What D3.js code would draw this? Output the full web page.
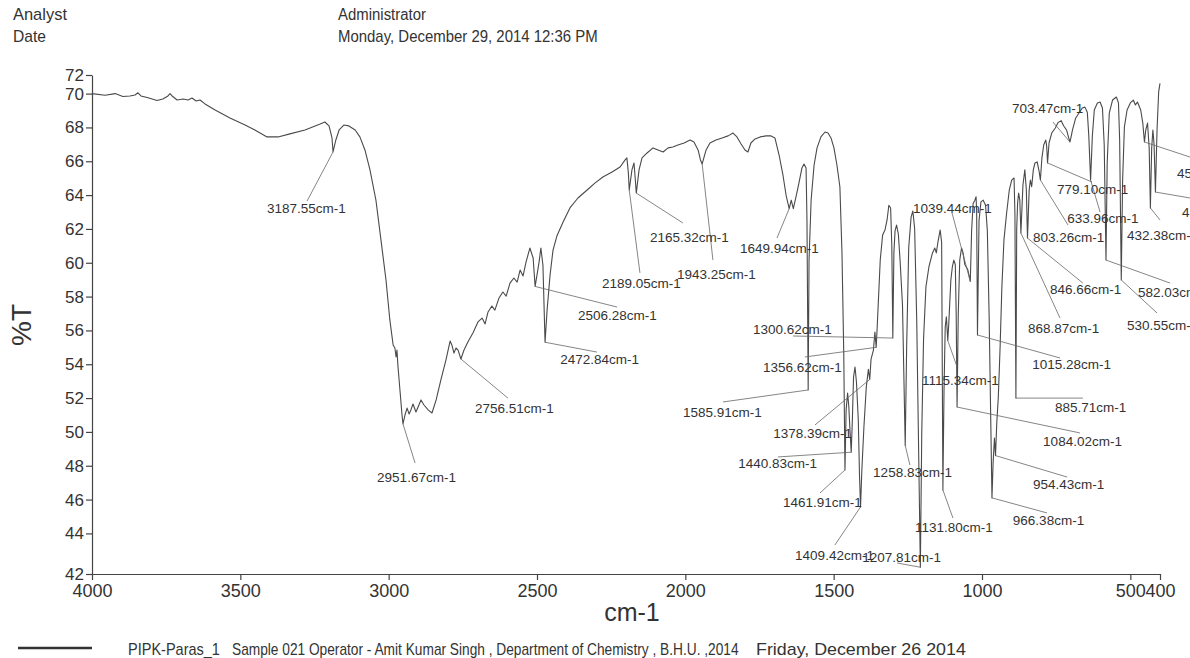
<!DOCTYPE html>
<html>
<head>
<meta charset="utf-8">
<script src="https://cdn.jsdelivr.net/npm/d3@7"></script>
<style>
body { margin: 0; background: #fff; }
svg { display: block; font-family: "Liberation Sans", Arial, sans-serif; }
</style>
</head>
<body>
<svg id="chart" width="1190" height="658"></svg>
<script>
// IR spectrum: wavenumber (cm-1) and %T
var wavenumber = [
  4000, 3956, 3922, 3896, 3872, 3855, 3845, 3835, 3811, 3781,
  3761, 3744, 3737, 3730, 3713, 3693, 3676, 3663, 3649, 3636,
  3619, 3585, 3535, 3484, 3451, 3410, 3373, 3333, 3282, 3231,
  3215, 3201, 3191, 3187.55, 3178, 3167, 3151, 3134, 3113, 3097,
  3080, 3063, 3043, 3026, 3009, 2996, 2985, 2979, 2975, 2972,
  2969, 2962, 2955, 2951.67, 2945, 2938, 2931, 2925, 2918, 2908,
  2898, 2891, 2881, 2867, 2854, 2840, 2824, 2807, 2793, 2787,
  2780, 2773, 2766, 2756.51, 2746, 2733, 2716, 2699, 2685, 2675,
  2665, 2652, 2642, 2628, 2615, 2604, 2591, 2578, 2567, 2557,
  2547, 2537, 2524, 2513, 2506.28, 2493, 2487, 2480, 2472.84, 2466,
  2456, 2446, 2433, 2412, 2389, 2362, 2331, 2304, 2278, 2247,
  2220, 2203, 2197, 2192, 2189.05, 2180, 2173, 2169, 2165.32, 2156,
  2146, 2129, 2109, 2092, 2075, 2058, 2042, 2025, 2004, 1984,
  1971, 1957, 1949, 1943.25, 1930, 1917, 1897, 1876, 1856, 1839,
  1826, 1812, 1799, 1789, 1779, 1765, 1748, 1728, 1711, 1698,
  1684, 1671, 1660, 1649.94, 1643, 1636, 1627, 1617, 1607, 1600,
  1593, 1590, 1585.91, 1583, 1576, 1566, 1556, 1543, 1529, 1519,
  1509, 1499, 1489, 1479, 1472, 1466, 1461.91, 1458, 1453, 1449,
  1445, 1440.83, 1437, 1433, 1428, 1423, 1417, 1413, 1409.42, 1405,
  1398, 1390, 1383, 1378.39, 1374, 1366, 1361, 1356.62, 1353, 1343,
  1335, 1327, 1320, 1314, 1308, 1304, 1300.62, 1297, 1293, 1288,
  1282, 1276, 1268, 1258.83, 1254, 1247, 1239, 1233, 1227, 1220,
  1207.81, 1203, 1197, 1189, 1179, 1167, 1159, 1154, 1149, 1141,
  1136, 1131.80, 1128, 1124, 1120, 1115.34, 1112, 1105, 1100, 1095,
  1090, 1087, 1084.02, 1080, 1075, 1069, 1064, 1058, 1048, 1039.44,
  1035, 1030, 1024, 1020, 1018, 1015.28, 1010, 1003.5, 996, 988,
  982, 976, 966.38, 962.5, 958, 954.43, 950, 945, 939, 933,
  926, 917, 908, 900, 892, 889, 885.71, 883, 880, 876.5,
  872.6, 868.87, 862, 855.6, 850.5, 846.66, 841, 837, 832.6, 827,
  821.5, 814, 807.5, 803.26, 798, 792, 785, 782, 779.10, 774,
  765, 753, 743, 733, 725, 715, 708, 703.47, 699, 695,
  684, 673, 662, 653, 645, 640, 633.96, 628, 621.5, 611,
  602, 594, 588, 582.03, 578, 571, 560, 547, 540, 536,
  530.55, 526, 520, 511, 500, 490, 483, 476, 465, 458,
  452.47, 448, 442, 436.5, 432.38, 428, 424, 420, 415.40, 410,
  404.5, 400
];
var transmittance = [
  70.0, 69.9, 70.0, 69.83, 69.86, 69.92, 70.05, 69.86, 69.75, 69.59,
  69.68, 69.86, 70.0, 69.86, 69.62, 69.68, 69.62, 69.74, 69.56, 69.62,
  69.39, 69.03, 68.56, 68.14, 67.85, 67.44, 67.44, 67.62, 67.85, 68.2,
  68.32, 68.09, 67.38, 66.55, 67.26, 67.85, 68.14, 68.09, 67.85, 67.44,
  66.67, 65.49, 63.71, 61.35, 58.98, 56.62, 55.14, 54.96, 54.43, 54.84,
  53.96, 52.48, 51.0, 50.47, 51.0, 51.41, 51.06, 51.3, 51.65, 51.18,
  51.59, 51.89, 51.59, 51.3, 51.12, 51.89, 53.07, 54.25, 55.37, 55.14,
  54.66, 54.96, 54.84, 54.31, 54.84, 55.31, 55.85, 56.5, 56.73, 56.38,
  57.09, 57.44, 57.2, 57.92, 58.27, 58.03, 58.8, 59.1, 58.86, 59.57,
  59.22, 60.04, 60.87, 60.28, 58.6, 60.04, 60.87, 59.87, 55.3, 57.2,
  59.27, 60.75, 61.58, 62.41, 63.24, 63.83, 64.3, 64.72, 65.07, 65.37,
  65.66, 66.08, 66.2, 65.3, 64.3, 65.49, 65.9, 65.0, 64.12, 65.49,
  66.2, 66.49, 66.79, 66.67, 66.55, 66.79, 66.84, 66.96, 67.08, 67.26,
  67.14, 66.67, 66.08, 65.84, 66.67, 67.08, 67.26, 67.38, 67.5, 67.67,
  67.44, 67.02, 66.67, 66.55, 67.08, 67.32, 67.44, 67.5, 67.5, 67.38,
  66.37, 65.19, 63.95, 63.2, 63.7, 63.2, 63.9, 64.72, 65.6, 65.84,
  65.6, 62.5, 52.48, 60.16, 63.71, 65.78, 66.79, 67.44, 67.73, 67.67,
  67.38, 66.79, 65.78, 64.48, 60.6, 54.7, 47.75, 51.3, 52.3, 51.5,
  50.1, 48.8, 50.7, 53.25, 53.84, 52.9, 50.7, 47.5, 45.56, 47.75,
  50.3, 52.66, 53.7, 53.1, 54.3, 54.84, 55.9, 55.0, 56.3, 60.16,
  61.64, 61.94, 62.53, 63.4, 63.24, 61.0, 55.55, 60.6, 61.9, 62.23,
  61.7, 60.1, 57.5, 49.2, 55.0, 60.9, 62.7, 63.06, 62.0, 56.6,
  42.0, 50.0, 55.5, 58.57, 59.75, 60.58, 60.87, 60.58, 61.17, 61.94,
  61.2, 46.57, 52.5, 56.2, 56.8, 55.4, 56.4, 58.98, 59.75, 60.16,
  59.9, 57.0, 51.47, 57.0, 60.16, 60.87, 60.6, 59.9, 59.6, 58.9,
  61.9, 63.5, 63.7, 63.9, 63.0, 55.73, 62.5, 63.6, 63.7, 63.4,
  61.9, 56.9, 46.1, 48.2, 49.64, 48.6, 50.6, 52.06, 55.0, 58.57,
  61.35, 62.94, 64.3, 64.89, 65.01, 62.9, 52.0, 62.0, 63.53, 64.12,
  63.7, 61.76, 64.6, 65.49, 64.3, 61.46, 64.3, 64.89, 64.5, 65.49,
  65.9, 65.96, 65.4, 64.89, 66.2, 66.96, 67.26, 66.9, 65.9, 67.08,
  67.67, 67.97, 68.3, 68.4, 68.1, 67.85, 67.4, 67.14, 67.5, 67.85,
  68.56, 68.85, 69.15, 69.2, 68.9, 67.5, 64.89, 67.5, 69.03, 69.45,
  69.5, 69.15, 66.96, 60.16, 65.9, 68.85, 69.62, 69.8, 69.45, 67.26,
  58.98, 64.89, 68.03, 69.03, 69.45, 69.62, 69.33, 69.5, 69.03, 68.26,
  67.14, 67.85, 68.26, 66.8, 63.24, 66.8, 67.85, 67.0, 64.18, 67.85,
  70.1, 70.6
];

// picked peaks (labels are "<wn>cm-1")
var peakWn = [
  3187.55, 2951.67, 2756.51, 2506.28, 2472.84, 2189.05, 2165.32, 1943.25,
  1649.94, 1585.91, 1461.91, 1440.83, 1409.42, 1378.39, 1356.62, 1300.62,
  1258.83, 1207.81, 1131.80, 1115.34, 1084.02, 1039.44, 1015.28, 966.38,
  954.43, 885.71, 868.87, 846.66, 803.26, 779.10, 703.47, 633.96,
  582.03, 530.55, 452.47, 432.38, 415.40
];

// label placement in chart units [cm-1, %T]: where the text starts, where the leader ends
var labelTextAt = [
  [3410, 62.94], [3039, 47.04], [2709, 51.12], [2362, 56.62], [2422, 54.01], [2281, 58.51],
  [2119, 61.23], [2028, 59.04], [1816, 60.58], [2008, 50.88], [1671, 45.56], [1822, 47.87],
  [1630, 42.43], [1704, 49.64], [1738, 53.54], [1772, 55.79], [1367, 47.33], [1404, 42.31],
  [1226, 44.08], [1202, 52.77], [794, 49.17], [1233, 62.94], [831, 53.72], [896, 44.5],
  [828, 46.63], [754, 51.18], [845, 55.85], [771, 58.15], [828, 61.23], [747, 64.07],
  [899, 68.85], [713, 62.35], [474, 57.98], [511, 56.03], [343, 65.01], [511, 61.35],
  [326, 62.7]
];
var labelLineTo = [
  [3275, 63.65], [2911, 48.16], [2598, 52.0], [2230, 57.38], [2298, 54.72], [2153, 59.4],
  [2008, 62.35], [1907, 60.16], [1691, 61.46], [1873, 51.77], [1546, 46.39], [1688, 48.52],
  [1496, 43.31], [1563, 50.41], [1597, 54.43], [1637, 55.67], [1243, 48.04], [1286, 42.25],
  [1098, 44.91], [1084, 53.84], [670, 49.94], [1101, 62.94], [737, 54.37], [781, 45.21],
  [713, 47.33], [660, 52.0], [737, 56.73], [660, 58.8], [710, 62.23], [629, 64.77],
  [761, 68.32], [602, 63.0], [366, 58.8], [410, 57.03], [299, 66.25], [400, 62.53],
  [299, 63.83]
];

var xTicks = [4000, 3500, 3000, 2500, 2000, 1500, 1000, 500, 400];
var yTicks = [41.6, 44, 46, 48, 50, 52, 54, 56, 58, 60, 62, 64, 66, 68, 70, 71.1];
var yTickLabels = ["42", "44", "46", "48", "50", "52", "54", "56", "58", "60", "62", "64", "66", "68", "70", "72"];

var svg = d3.select("#chart");
svg.append("rect").attr("width", 1190).attr("height", 658).attr("fill", "#fff");

var x = d3.scaleLinear().domain([4000, 400]).range([92, 1160]);
var y = d3.scaleLinear().domain([41.6, 71.1]).range([574, 75]);

// condensed print-out text: squeeze each line horizontally to the scanned width
function squeezed(rows, size) {
  rows.forEach(function(r) {
    var t = svg.append("text")
        .style("font-size", size + "px")
        .style("fill", "#333")
        .text(r[0]);
    var k = r[3] / t.node().getComputedTextLength();
    t.attr("transform", "translate(" + r[1] + "," + r[2] + ") scale(" + k + ",1)");
  });
}

// header
squeezed([["Analyst", 13, 20, 54], ["Date", 13, 42, 33],
          ["Administrator", 338, 20, 88], ["Monday, December 29, 2014 12:36 PM", 338, 42, 260]], 16);

// axes
var xAxis = svg.append("g")
    .attr("transform", "translate(0,574)")
    .call(d3.axisBottom(x).tickValues(xTicks).tickSize(6).tickSizeOuter(0).tickPadding(4)
      .tickFormat(d3.format("d")));
var yAxis = svg.append("g")
    .attr("transform", "translate(92,0)")
    .call(d3.axisLeft(y).tickValues(yTicks).tickSize(6).tickSizeOuter(0).tickPadding(2)
      .tickFormat(function(d, i) { return yTickLabels[i]; }));
[xAxis, yAxis].forEach(function(g) {
  g.selectAll("path, line").attr("stroke", "#444").attr("stroke-width", 1.2);
  g.selectAll("text").style("fill", "#333").style("font-family", "Liberation Sans, Arial, sans-serif");
});
xAxis.selectAll("text").style("font-size", "18px");
yAxis.selectAll("text").style("font-size", "17px");

svg.append("text")
    .attr("x", 632).attr("y", 621)
    .attr("text-anchor", "middle")
    .style("font-size", "25px").style("fill", "#333")
    .text("cm-1");
svg.append("text")
    .attr("transform", "translate(31,325) rotate(-90)")
    .attr("text-anchor", "middle")
    .style("font-size", "28px").style("fill", "#333")
    .text("%T");

// spectrum
var pts = wavenumber.map(function(w, i) { return [w, transmittance[i]]; });
var line = d3.line()
    .x(function(d) { return x(d[0]); })
    .y(function(d) { return y(d[1]); });
svg.append("path")
    .datum(pts)
    .attr("fill", "none")
    .attr("stroke", "#4a4a4a")
    .attr("stroke-width", 1.1)
    .attr("stroke-linejoin", "round")
    .attr("d", line);

// peak labels and leaders
var peaks = peakWn.map(function(w, i) {
  var j = wavenumber.indexOf(w);
  return { wn: w, t: transmittance[j], text: labelTextAt[i], to: labelLineTo[i] };
});
var pk = svg.append("g").attr("class", "peaks");
pk.selectAll("line").data(peaks).enter().append("line")
    .attr("x1", function(d) { return x(d.wn); })
    .attr("y1", function(d) { return y(d.t); })
    .attr("x2", function(d) { return x(d.to[0]); })
    .attr("y2", function(d) { return y(d.to[1]); })
    .attr("stroke", "#666")
    .attr("stroke-width", 0.8);
pk.selectAll("text").data(peaks).enter().append("text")
    .attr("x", function(d) { return x(d.text[0]); })
    .attr("y", function(d) { return y(d.text[1]); })
    .style("font-size", "13.5px")
    .style("fill", "#333")
    .text(function(d) { return d.wn.toFixed(2) + "cm-1"; });

// legend / footer
svg.append("line")
    .attr("x1", 18).attr("x2", 92).attr("y1", 648).attr("y2", 648)
    .attr("stroke", "#333").attr("stroke-width", 2.5);
squeezed([["PIPK-Paras_1", 128, 655, 92],
          ["Sample 021 Operator - Amit Kumar Singh , Department of Chemistry , B.H.U. ,2014", 232, 655, 507],
          ["Friday, December 26 2014", 756, 655, 210]], 16);
</script>
</body>
</html>
